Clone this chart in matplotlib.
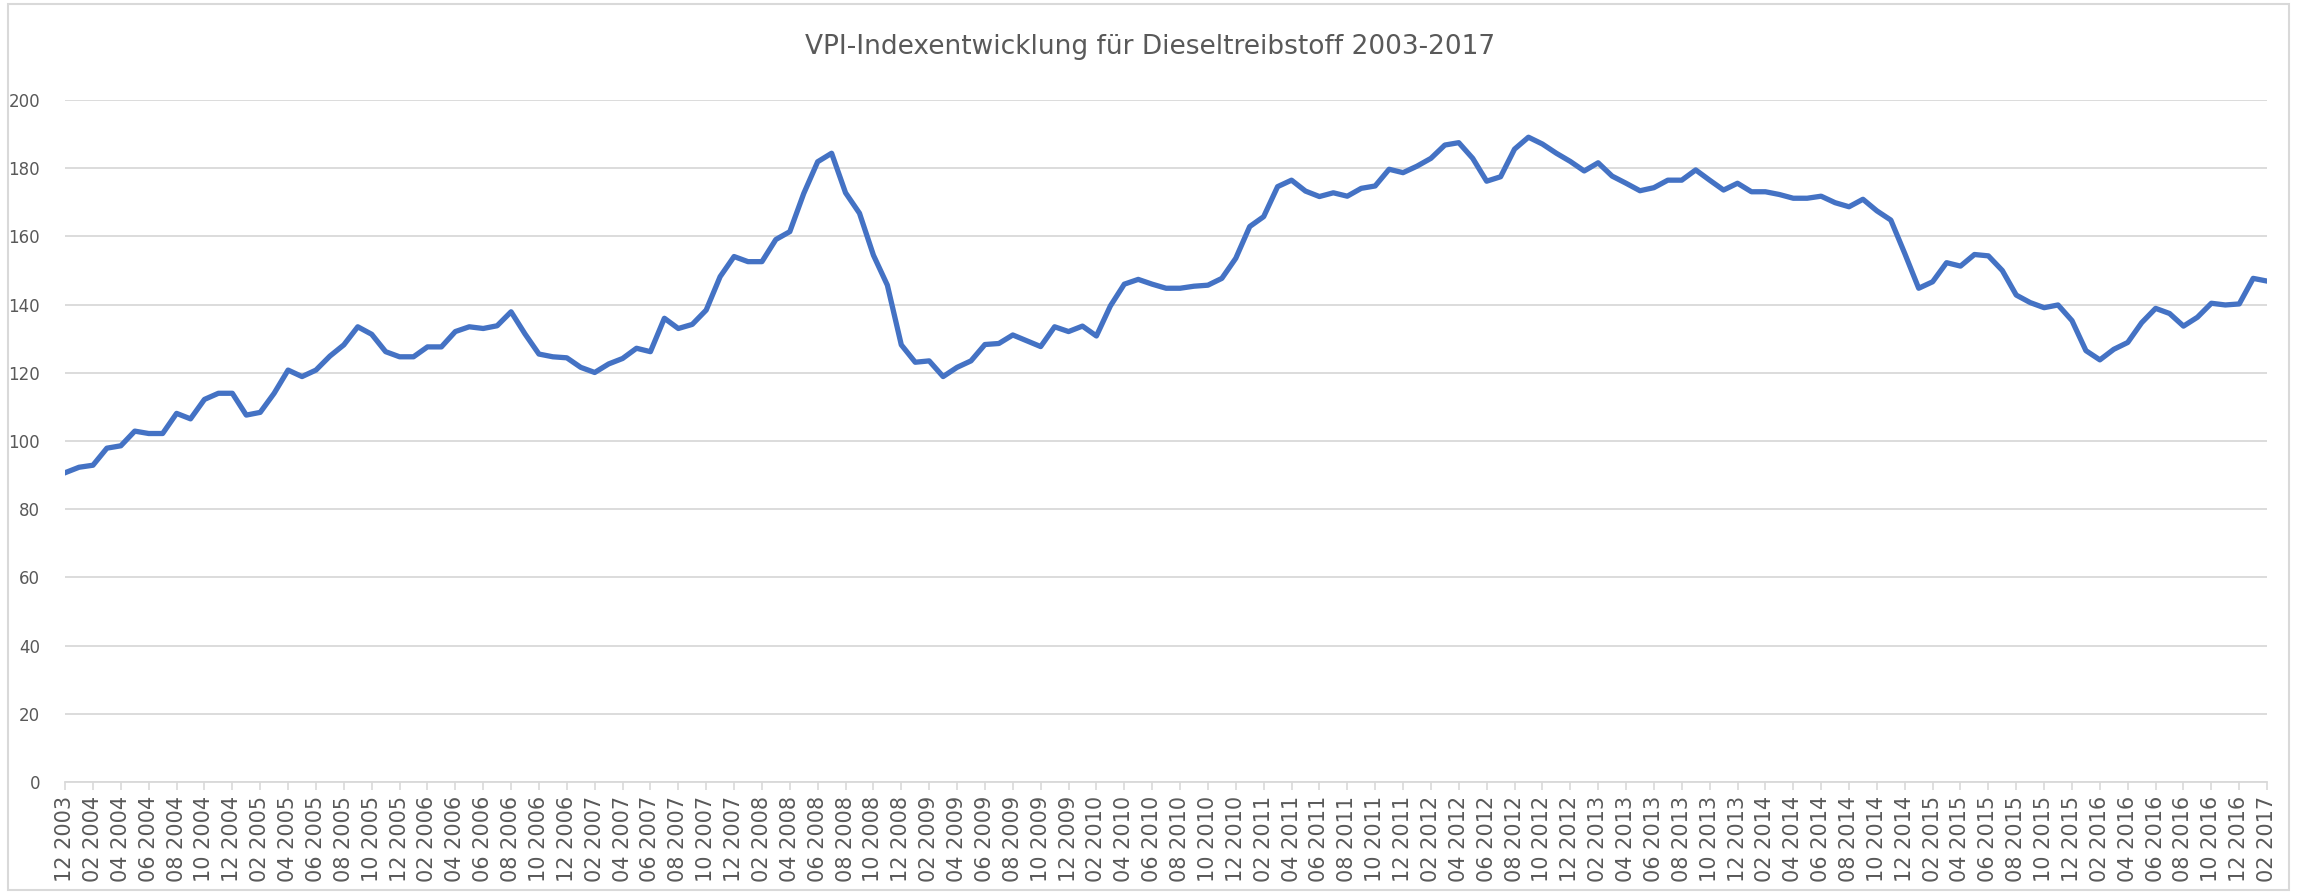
import matplotlib
matplotlib.use("Agg")
import matplotlib.pyplot as plt
import numpy as np
from matplotlib.patches import Rectangle

# VPI Diesel, monatlich 12/2003 - 02/2017
start_year = 2003
start_month = 12
index_values = [
    90.7, 92.3, 92.9, 97.9, 98.6, 102.9, 102.2, 102.2, 108.1, 106.5,
    112.2, 114.0, 114.0, 107.6, 108.4, 114.0, 120.8, 118.9, 120.8, 124.9,
    128.2, 133.5, 131.3, 126.2, 124.7, 124.7, 127.6, 127.6, 132.1, 133.5,
    133.0, 133.8, 137.9, 131.4, 125.5, 124.7, 124.4, 121.6, 120.1, 122.6,
    124.2, 127.2, 126.2, 136.0, 133.0, 134.2, 138.4, 148.2, 154.1, 152.6,
    152.6, 159.1, 161.4, 172.6, 181.9, 184.4, 172.8, 166.8, 154.5, 145.7,
    128.2, 123.1, 123.5, 118.9, 121.6, 123.5, 128.3, 128.6, 131.1, 129.4,
    127.7, 133.5, 132.1, 133.7, 130.8, 139.6, 146.0, 147.4, 146.0, 144.8,
    144.8, 145.4, 145.7, 147.7, 153.6, 162.9, 165.8, 174.6, 176.5, 173.3,
    171.7, 172.8, 171.8, 174.1, 174.8, 179.7, 178.7, 180.6, 182.9, 186.8,
    187.5, 182.9, 176.2, 177.5, 185.6, 189.1, 187.1, 184.4, 182.0, 179.2,
    181.6, 177.7, 175.6, 173.4, 174.3, 176.5, 176.5, 179.5, 176.5, 173.6,
    175.6, 173.1, 173.1, 172.3, 171.2, 171.2, 171.8, 169.9, 168.7, 170.9,
    167.5, 164.8, 155.0, 144.8, 146.7, 152.3, 151.3, 154.7, 154.3, 150.0,
    142.8, 140.6, 139.1, 139.9, 135.3, 126.5, 123.8, 126.9, 128.9, 134.7,
    138.9, 137.4, 133.7, 136.3, 140.4, 139.9, 140.2, 147.7, 146.9,
]
y_ticks = [0, 20, 40, 60, 80, 100, 120, 140, 160, 180, 200]
title = "VPI-Indexentwicklung für Dieseltreibstoff 2003-2017"

# Monatslabels "MM YYYY"
month_labels = []
y, m = start_year, start_month
for _ in index_values:
    month_labels.append(f"{m:02d} {y}")
    m += 1
    if m > 12:
        m = 1
        y += 1

plt.rcParams['font.family'] = ['DejaVu Sans']

fig = plt.figure(figsize=(23, 8.94), dpi=100)
ax = fig.add_axes([0.0283, 0.1253, 0.9574, 0.7628])

x = np.arange(len(index_values))
ax.plot(x, index_values, color='#4472C4', linewidth=3.8, solid_joinstyle='round')

ax.set_xlim(0, len(index_values) - 1)
ax.set_ylim(0, 200)
ax.set_yticks(y_ticks)
ax.set_xticks(x[::2])
ax.set_xticklabels(month_labels[::2], rotation=90, fontsize=15, color='#595959')
ax.tick_params(axis='y', length=0, pad=18, labelsize=12, labelcolor='#595959')
ax.tick_params(axis='x', length=6, width=1.2, color='#d9d9d9', pad=4)

ax.grid(axis='y', color='#d9d9d9', linewidth=1.3)
ax.set_axisbelow(True)
for side in ['top', 'right', 'left']:
    ax.spines[side].set_visible(False)
ax.spines['bottom'].set_color('#d9d9d9')
ax.spines['bottom'].set_linewidth(1.3)

fig.text(0.5, 0.947, title, ha='center', va='center', fontsize=19, color='#595959')

# Rahmen um das Diagramm
fig.patches.append(Rectangle((0.0035, 0.004), 0.9915, 0.991, transform=fig.transFigure,
                             fill=False, edgecolor='#d9d9d9', linewidth=1.5))

fig.savefig('out.png', dpi=100)
